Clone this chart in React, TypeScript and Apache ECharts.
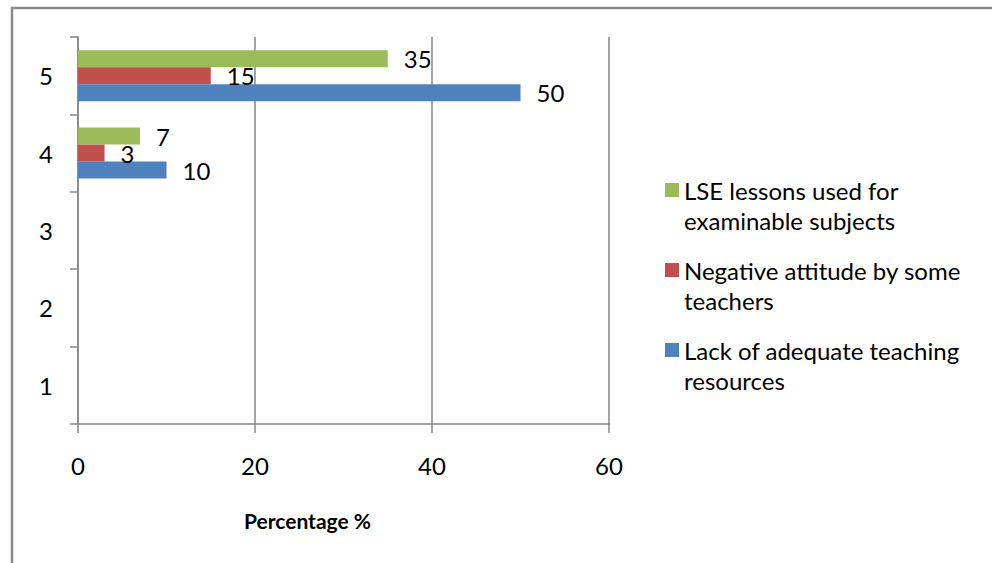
import React, { useEffect, useRef } from "react";
import * as echarts from "echarts";

const categories = ["1", "2", "3", "4", "5"];
const lackOfResources = [null, null, null, 10, 50];
const negativeAttitude = [null, null, null, 3, 15];
const lseForExams = [null, null, null, 7, 35];
const xTicks = { min: 0, max: 60, interval: 20 };

const seriesNames = {
  lack: "Lack of adequate teaching\nresources",
  neg: "Negative attitude by some\nteachers",
  lse: "LSE lessons used for\nexaminable subjects",
};

const FONT = "Lato, 'Open Sans', sans-serif";
const GRAY = "#868686";

export default function App() {
  const ref = useRef<HTMLDivElement>(null);
  useEffect(() => {
    if (!ref.current) return;
    const chart = echarts.init(ref.current, undefined, { renderer: "svg" });
    const label = {
      show: true,
      position: "right",
      distance: 16,
      color: "#000",
      fontSize: 24,
      fontFamily: FONT,
    };
    chart.setOption({
      animation: false,
      backgroundColor: "#fff",
      textStyle: { fontFamily: FONT },
      graphic: [
        {
          type: "rect",
          shape: { x: 12, y: 8, width: 1100, height: 700 },
          style: { fill: "none", stroke: "#8a8a8a", lineWidth: 2.5 },
          silent: true,
        },
      ],
      grid: { left: 78, top: 37, width: 531, height: 387 },
      xAxis: {
        type: "value",
        min: xTicks.min,
        max: xTicks.max,
        interval: xTicks.interval,
        name: "Percentage %",
        nameLocation: "middle",
        nameGap: 86,
        nameTextStyle: {
          fontSize: 21,
          fontWeight: "bold",
          color: "#000",
          fontFamily: FONT,
          padding: [0, 72, 0, 0],
        },
        axisLine: { show: true, lineStyle: { color: GRAY, width: 1.5 } },
        axisTick: { show: true, length: 9, lineStyle: { color: GRAY, width: 1.5 } },
        axisLabel: { color: "#000", fontSize: 24, margin: 29, fontFamily: FONT },
        splitLine: { show: true, lineStyle: { color: GRAY, width: 1.5 } },
      },
      yAxis: {
        type: "category",
        data: categories,
        axisLine: { show: true, lineStyle: { color: GRAY, width: 1.5 } },
        axisTick: { show: true, length: 8, lineStyle: { color: GRAY, width: 1.5 } },
        axisLabel: { color: "#000", fontSize: 24, margin: 25, fontFamily: FONT },
        splitLine: { show: false },
      },
      legend: {
        orient: "vertical",
        left: 665,
        top: 145,
        padding: 0,
        itemWidth: 14,
        itemHeight: 14,
        itemGap: -10,
        icon: "rect",
        selectedMode: false,
        data: [seriesNames.lse, seriesNames.neg, seriesNames.lack],
        formatter: (name: string) => " \n" + name,
        textStyle: {
          fontSize: 24,
          lineHeight: 30,
          color: "#000",
          fontFamily: FONT,
        },
      },
      series: [
        {
          name: seriesNames.lse,
          type: "bar",
          data: lseForExams,
          barWidth: 17,
          barGap: "0%",
          itemStyle: { color: "#9BBB59" },
          label,
        },
        {
          name: seriesNames.neg,
          type: "bar",
          data: negativeAttitude,
          barWidth: 17,
          barGap: "0%",
          itemStyle: { color: "#C0504D" },
          label,
        },
        {
          name: seriesNames.lack,
          type: "bar",
          data: lackOfResources,
          barWidth: 17,
          barGap: "0%",
          itemStyle: { color: "#4F81BD" },
          label,
        },
      ],
    });
    return () => chart.dispose();
  }, []);
  return (
    <div
      ref={ref}
      style={{ position: "fixed", left: 0, top: 0, width: 992, height: 563, background: "#fff" }}
    />
  );
}
